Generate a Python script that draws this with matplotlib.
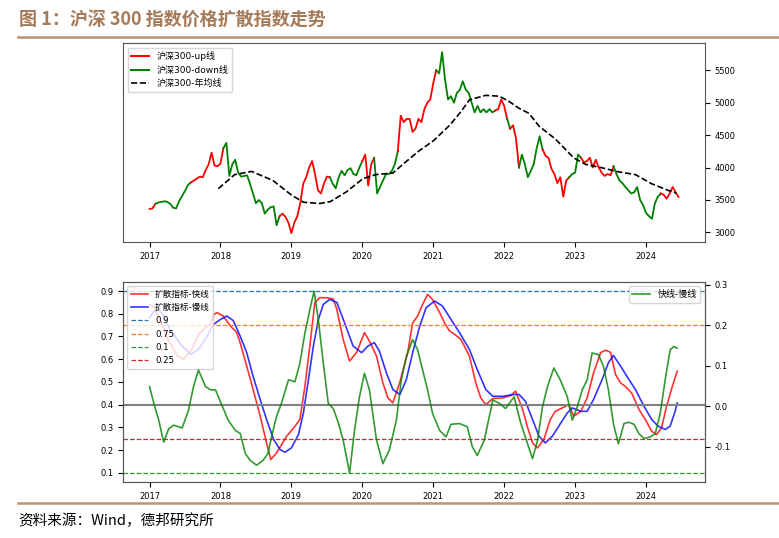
import numpy as np
import matplotlib
matplotlib.use('Agg')
import matplotlib.pyplot as plt
from matplotlib.ticker import MultipleLocator, FormatStrFormatter

plt.rcParams['font.family'] = ['DejaVu Sans', 'Noto Sans CJK SC']
plt.rcParams['axes.unicode_minus'] = False

# CSI 300 close, sampled on the 1st and 15th of each month (2017-01 .. 2024-06)
price = [
    3360, 3370, 3440, 3460, 3470, 3480, 3470, 3440, 3380, 3370, 3480, 3560,
    3640, 3730, 3770, 3800, 3830, 3860, 3850, 3960, 4050, 4230, 4030, 4020,
    4060, 4300, 4380, 3870, 4050, 4120, 3920, 3860, 3870, 3880, 3750, 3600,
    3450, 3500, 3450, 3290, 3350, 3390, 3400, 3110, 3250, 3290, 3240, 3150,
    2990, 3150, 3250, 3450, 3750, 3850, 4000, 4100, 3900, 3650, 3600, 3750,
    3860, 3850, 3750, 3680, 3850, 3950, 3880, 3960, 3990, 3900, 3880, 4000,
    4100, 4200, 3720, 4050, 4150, 3600, 3700, 3800, 3900, 3900, 3950, 4050,
    4250, 4800, 4700, 4750, 4750, 4550, 4600, 4750, 4700, 4900, 5000, 5050,
    5300, 5500, 5450, 5780, 5350, 5050, 5100, 5000, 5150, 5200, 5330, 5200,
    5150, 5000, 4850, 4950, 4850, 4900, 4850, 4900, 4850, 4880, 4900, 5050,
    4950, 4750, 4600, 4650, 4450, 4000, 4200, 4050, 3850, 3950, 4050, 4300,
    4480, 4280, 4180, 4150, 3980, 3900, 3760, 3850, 3550, 3800, 3850, 3900,
    3920, 4200, 4150, 4080, 4100, 4150, 4000, 4120, 4000, 3920, 3870, 3900,
    3880, 4020, 3900, 3800, 3760, 3700, 3650, 3600, 3620, 3700, 3500, 3420,
    3300, 3250, 3210, 3450, 3550, 3600, 3580, 3520, 3600, 3700, 3620, 3545,
]
t_price = 2017 + np.arange(len(price)) / 24.0

# periods coloured as "up"
up_periods = [(2017.00, 2017.08), (2017.55, 2018.02), (2018.81, 2019.52),
              (2019.96, 2020.15), (2020.50, 2021.02), (2021.86, 2022.00),
              (2022.07, 2022.18), (2022.53, 2022.88), (2023.08, 2023.52),
              (2024.20, 2024.50)]

# 250-day moving average
t_ma = [2017.97, 2018.20, 2018.44, 2018.74, 2019.00, 2019.17, 2019.40, 2019.55,
        2019.78, 2020.01, 2020.19, 2020.43, 2020.57, 2020.80, 2021.00, 2021.23,
        2021.39, 2021.51, 2021.74, 2021.93, 2022.07, 2022.21, 2022.35, 2022.49,
        2022.72, 2022.98, 2023.15, 2023.38, 2023.61, 2023.85, 2024.08, 2024.32,
        2024.43]
ma = [3675, 3891, 3940, 3800, 3577, 3465, 3446, 3475, 3629, 3830, 3891, 3915,
      4048, 4258, 4410, 4650, 4861, 5044, 5113, 5100, 5018, 4913, 4835, 4640,
      4442, 4150, 4048, 3996, 3934, 3891, 3750, 3645, 3604]

# diffusion index, fast line
t_fast = [2017.00, 2017.06, 2017.15, 2017.27, 2017.39, 2017.48, 2017.60, 2017.69,
          2017.79, 2017.86, 2017.90, 2017.95, 2018.04, 2018.14, 2018.23, 2018.28,
          2018.37, 2018.46, 2018.56, 2018.65, 2018.71, 2018.79, 2018.93, 2019.05,
          2019.12, 2019.19, 2019.26, 2019.33, 2019.40, 2019.50, 2019.59, 2019.64,
          2019.73, 2019.82, 2019.92, 2020.03, 2020.10, 2020.20, 2020.29, 2020.36,
          2020.43, 2020.53, 2020.64, 2020.71, 2020.78, 2020.85, 2020.92, 2020.99,
          2021.09, 2021.16, 2021.23, 2021.30, 2021.39, 2021.51, 2021.60, 2021.67,
          2021.74, 2021.84, 2021.98, 2022.09, 2022.16, 2022.26, 2022.33, 2022.40,
          2022.47, 2022.56, 2022.65, 2022.72, 2022.82, 2022.91, 2022.98, 2023.08,
          2023.17, 2023.26, 2023.36, 2023.43, 2023.50, 2023.57, 2023.64, 2023.71,
          2023.80, 2023.90, 2023.99, 2024.08, 2024.15, 2024.22, 2024.29, 2024.37,
          2024.44]
fast = [0.840, 0.830, 0.770, 0.680, 0.615, 0.600, 0.645, 0.710, 0.740, 0.755,
        0.795, 0.805, 0.790, 0.746, 0.717, 0.670, 0.570, 0.467, 0.350, 0.232,
        0.159, 0.188, 0.260, 0.305, 0.335, 0.480, 0.658, 0.849, 0.871, 0.870,
        0.865, 0.820, 0.687, 0.592, 0.630, 0.717, 0.680, 0.614, 0.496, 0.430,
        0.408, 0.500, 0.629, 0.760, 0.790, 0.841, 0.885, 0.863, 0.805, 0.760,
        0.724, 0.710, 0.687, 0.614, 0.496, 0.430, 0.400, 0.427, 0.430, 0.440,
        0.460, 0.380, 0.300, 0.232, 0.210, 0.247, 0.335, 0.371, 0.386, 0.401,
        0.350, 0.371, 0.430, 0.540, 0.629, 0.640, 0.630, 0.533, 0.496, 0.480,
        0.450, 0.379, 0.335, 0.283, 0.269, 0.300, 0.394, 0.480, 0.548]

# diffusion index, slow line
t_slow = [2017.00, 2017.06, 2017.13, 2017.20, 2017.29, 2017.44, 2017.58, 2017.69,
          2017.81, 2017.90, 2018.00, 2018.09, 2018.18, 2018.28, 2018.37, 2018.46,
          2018.56, 2018.65, 2018.75, 2018.84, 2018.91, 2019.00, 2019.10, 2019.17,
          2019.24, 2019.31, 2019.38, 2019.45, 2019.54, 2019.64, 2019.75, 2019.87,
          2019.99, 2020.08, 2020.17, 2020.24, 2020.34, 2020.43, 2020.53, 2020.62,
          2020.71, 2020.81, 2020.90, 2021.02, 2021.13, 2021.25, 2021.37, 2021.51,
          2021.62, 2021.74, 2021.84, 2021.98, 2022.14, 2022.21, 2022.30, 2022.40,
          2022.49, 2022.58, 2022.68, 2022.77, 2022.89, 2022.96, 2023.08, 2023.17,
          2023.26, 2023.38, 2023.47, 2023.54, 2023.64, 2023.73, 2023.85, 2023.97,
          2024.08, 2024.17, 2024.27, 2024.34, 2024.41, 2024.44]
slow = [0.783, 0.810, 0.820, 0.790, 0.731, 0.665, 0.621, 0.643, 0.700, 0.753,
        0.775, 0.790, 0.770, 0.700, 0.629, 0.525, 0.423, 0.335, 0.247, 0.203,
        0.191, 0.210, 0.269, 0.365, 0.510, 0.658, 0.775, 0.841, 0.863, 0.850,
        0.760, 0.658, 0.629, 0.658, 0.673, 0.636, 0.540, 0.467, 0.445, 0.510,
        0.629, 0.746, 0.827, 0.856, 0.834, 0.775, 0.717, 0.643, 0.555, 0.467,
        0.437, 0.437, 0.445, 0.445, 0.415, 0.335, 0.262, 0.232, 0.262, 0.306,
        0.364, 0.386, 0.371, 0.371, 0.423, 0.510, 0.585, 0.617, 0.570, 0.525,
        0.467, 0.394, 0.335, 0.306, 0.291, 0.306, 0.371, 0.408]

# fast minus slow (right axis)
t_diff = [2017.00, 2017.06, 2017.13, 2017.20, 2017.27, 2017.34, 2017.46, 2017.55,
          2017.62, 2017.69, 2017.79, 2017.86, 2017.93, 2018.02, 2018.11, 2018.21,
          2018.28, 2018.35, 2018.42, 2018.51, 2018.60, 2018.67, 2018.72, 2018.79,
          2018.86, 2018.96, 2019.05, 2019.12, 2019.19, 2019.26, 2019.32, 2019.38,
          2019.45, 2019.52, 2019.59, 2019.66, 2019.73, 2019.82, 2019.89, 2019.96,
          2020.03, 2020.10, 2020.20, 2020.29, 2020.38, 2020.48, 2020.55, 2020.62,
          2020.71, 2020.78, 2020.85, 2020.92, 2020.99, 2021.09, 2021.18, 2021.25,
          2021.37, 2021.48, 2021.55, 2021.62, 2021.72, 2021.84, 2021.93, 2022.02,
          2022.14, 2022.23, 2022.33, 2022.40, 2022.47, 2022.54, 2022.61, 2022.70,
          2022.79, 2022.89, 2022.96, 2023.03, 2023.10, 2023.17, 2023.24, 2023.33,
          2023.40, 2023.47, 2023.54, 2023.61, 2023.69, 2023.76, 2023.83, 2023.90,
          2023.97, 2024.06, 2024.13, 2024.20, 2024.27, 2024.34, 2024.39, 2024.44]
diff = [0.048, 0.007, -0.035, -0.089, -0.056, -0.047, -0.054, -0.010, 0.048,
        0.089, 0.048, 0.040, 0.040, 0.002, -0.035, -0.060, -0.068, -0.117,
        -0.134, -0.146, -0.134, -0.117, -0.076, -0.026, 0.007, 0.065, 0.060,
        0.106, 0.180, 0.238, 0.284, 0.213, 0.106, 0.007, -0.006, -0.040,
        -0.084, -0.165, -0.060, 0.023, 0.081, 0.040, -0.084, -0.142, -0.109,
        -0.035, 0.065, 0.122, 0.164, 0.139, 0.089, 0.040, -0.018, -0.060,
        -0.076, -0.045, -0.043, -0.051, -0.100, -0.122, -0.084, 0.015, 0.007,
        -0.006, 0.023, -0.040, -0.093, -0.130, -0.085, -0.002, 0.048, 0.094,
        0.065, 0.023, -0.035, -0.002, 0.040, 0.065, 0.131, 0.127, 0.098, 0.040,
        -0.043, -0.093, -0.043, -0.040, -0.045, -0.068, -0.080, -0.076, -0.068,
        -0.018, 0.065, 0.139, 0.147, 0.143]

levels = [0.9, 0.75, 0.1, 0.25]
level_colors = ['C0', 'C1', 'C2', 'C3']

BROWN = '#a57a58'

fig = plt.figure(figsize=(7.79, 5.38), dpi=100)
fig.text(0.024, 0.965, '图 1：沪深 300 指数价格扩散指数走势', fontsize=13,
         fontweight='bold', color=BROWN, family='Noto Sans CJK SC',
         va='center', ha='left')
fig.add_artist(plt.Line2D([0.023, 1.0], [0.931, 0.931], color='#b8957a', lw=1.8))
fig.add_artist(plt.Line2D([0.023, 1.0], [0.065, 0.065], color='#b8957a', lw=1.8))
fig.text(0.024, 0.032, '资料来源：Wind，德邦研究所', fontsize=10.5,
         family='Noto Sans CJK SC', va='center', ha='left')

# ---- top panel: index coloured by regime
ax1 = fig.add_axes([0.158, 0.550, 0.747, 0.370])
up = np.zeros(len(price), dtype=bool)
for a, b in up_periods:
    up |= (t_price >= a - 1e-9) & (t_price <= b + 1e-9)

i = 0
n = len(price)
while i < n:
    j = i
    while j + 1 < n and up[j + 1] == up[i]:
        j += 1
    col = 'red' if up[i] else 'green'
    ax1.plot(t_price[i:j + 2], price[i:j + 2], color=col, lw=1.3)
    i = j + 1
ax1.plot([], [], color='red', label='沪深300-up线')
ax1.plot([], [], color='green', label='沪深300-down线')
ax1.plot(t_ma, ma, 'k--', lw=1.2, label='沪深300-年均线')
ax1.yaxis.tick_right()
ax1.yaxis.set_major_locator(MultipleLocator(500))
ax1.xaxis.set_major_locator(MultipleLocator(1))
ax1.xaxis.set_major_formatter(FormatStrFormatter('%d'))
ax1.tick_params(labelsize=6)
ax1.legend(loc='upper left', fontsize=6.5)

# ---- bottom panel: diffusion index
ax2 = fig.add_axes([0.158, 0.104, 0.747, 0.372])
ax2.plot(t_fast, fast, color='red', lw=1.2, alpha=0.8, label='扩散指标-快线')
ax2.plot(t_slow, slow, color='blue', lw=1.2, alpha=0.8, label='扩散指标-慢线')
for lv, c in zip(levels, level_colors):
    ax2.axhline(lv, color=c, ls='--', lw=0.9, label=str(lv))
ax2.axhline(0.4, color='grey', lw=1.5)
ax2.set_ylim(0.06, 0.94)
ax2.yaxis.set_major_locator(MultipleLocator(0.1))
ax2.xaxis.set_major_locator(MultipleLocator(1))
ax2.xaxis.set_major_formatter(FormatStrFormatter('%d'))
ax2.tick_params(labelsize=6)
ax2.legend(loc='upper left', fontsize=6.2)

ax3 = ax2.twinx()
ax3.plot(t_diff, diff, color='green', lw=1.2, alpha=0.8, label='快线-慢线')
ax3.yaxis.set_major_locator(MultipleLocator(0.1))
ax3.tick_params(labelsize=6)
ax3.legend(loc='upper right', fontsize=6.5)

for ax in (ax1, ax2, ax3):
    for s in ax.spines.values():
        s.set_color('#555555')

ax2.set_xlim(ax1.get_xlim())

plt.savefig('out.png', dpi=100)
